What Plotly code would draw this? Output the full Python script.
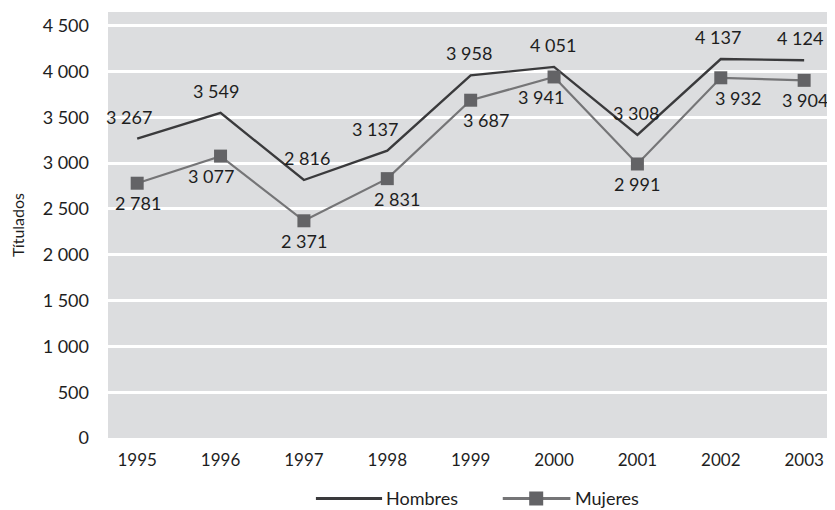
import plotly.graph_objects as go

# data
years = ["1995", "1996", "1997", "1998", "1999", "2000", "2001", "2002", "2003"]
hombres = [3267, 3549, 2816, 3137, 3958, 4051, 3308, 4137, 4124]
mujeres = [2781, 3077, 2371, 2831, 3687, 3941, 2991, 3932, 3904]
y_ticks = [0, 500, 1000, 1500, 2000, 2500, 3000, 3500, 4000, 4500]


def fmt(v):
    # thousands separated by a space, as in the original
    return f"{v:,}".replace(",", " ")


font = "Lato, 'Open Sans', sans-serif"
ink = "#1e1e1e"
c_h = "#3a3a3c"
c_m_line = "#757577"
c_m_mark = "#636366"

trace_h = go.Scatter(
    x=years, y=hombres, name="Hombres", mode="lines",
    line=dict(color=c_h, width=2.4),
)
trace_m = go.Scatter(
    x=years, y=mujeres, name="Mujeres", mode="lines+markers",
    line=dict(color=c_m_line, width=2.2),
    marker=dict(symbol="square", size=13, color=c_m_mark),
)

fig = go.Figure(data=[trace_h, trace_m])

# value labels: men above the line, women below the markers
h_shift = [-8, -5, 3, -12, -2, -1, -1, -3, -4]
m_shift = [1, -10, 0, 10, 15, -13, 0, 17, 1]
for i in range(len(years)):
    fig.add_annotation(
        x=i, y=hombres[i], text=fmt(hombres[i]), showarrow=False,
        yshift=22, xshift=h_shift[i], font=dict(size=18, color=ink, family=font),
    )
    fig.add_annotation(
        x=i, y=mujeres[i], text=fmt(mujeres[i]), showarrow=False,
        yshift=-20, xshift=m_shift[i], font=dict(size=18, color=ink, family=font),
    )

# hand-made legend below the plot (longer symbol lines than plotly's own)
ly = -0.142
fig.add_shape(type="line", xref="paper", yref="paper", x0=0.286, x1=0.377, y0=ly, y1=ly,
              line=dict(color=c_h, width=3))
fig.add_annotation(xref="paper", yref="paper", x=0.380, y=ly, text="Hombres", showarrow=False,
                   xanchor="left", yanchor="middle", font=dict(size=18, color=ink, family=font))
fig.add_shape(type="line", xref="paper", yref="paper", x0=0.543, x1=0.636, y0=ly, y1=ly,
              line=dict(color=c_m_line, width=3))
fig.add_shape(type="rect", xref="paper", yref="paper", xsizemode="pixel", ysizemode="pixel",
              xanchor=0.589, yanchor=ly, x0=-7, x1=7, y0=-7, y1=7,
              fillcolor=c_m_mark, line=dict(width=0))
fig.add_annotation(xref="paper", yref="paper", x=0.639, y=ly, text="Mujeres", showarrow=False,
                   xanchor="left", yanchor="middle", font=dict(size=18, color=ink, family=font))

# the page body has an 8px margin, so the figure is 8px smaller than the window
fig.update_layout(
    width=827,
    height=502,
    margin=dict(l=100, r=0, t=4, b=72),
    paper_bgcolor="white",
    plot_bgcolor="#dcdddf",
    font=dict(family=font, size=17, color=ink),
    showlegend=False,
)
fig.update_xaxes(
    type="category",
    range=[-0.35, 8.37],
    showgrid=False,
    zeroline=False,
    showline=False,
    ticks="",
    ticklabelstandoff=10,
    tickfont=dict(size=17),
    automargin=False,
)
fig.update_yaxes(
    range=[0, 4650],
    tickvals=y_ticks,
    ticktext=[fmt(v) for v in y_ticks],
    showgrid=True,
    gridcolor="white",
    gridwidth=2.5,
    zeroline=False,
    showline=False,
    ticks="",
    ticklabelstandoff=18,
    tickfont=dict(size=18),
    title=dict(text="Títulados", font=dict(size=16), standoff=14),
    automargin=False,
)

fig.write_html("out.html")
